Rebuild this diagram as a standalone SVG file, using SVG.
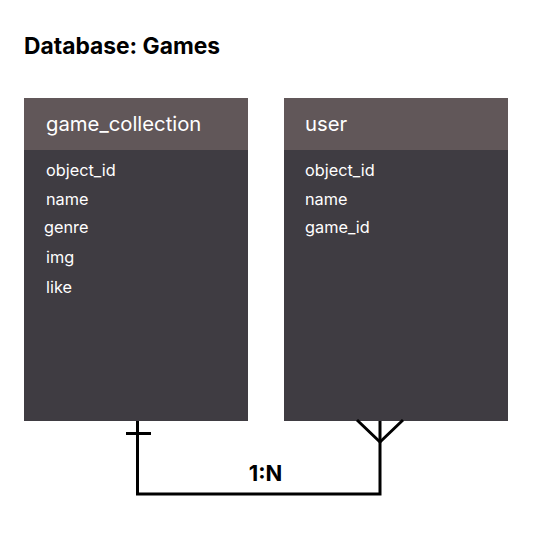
<svg xmlns="http://www.w3.org/2000/svg" width="533" height="539" viewBox="0 0 533 539">
<style>
text{font-family:Inter,"Liberation Sans",sans-serif}
.title{font-size:22.8px;font-weight:700;fill:#000}
.hdr{fill:#615759}
.body{fill:#3f3c42}
.ht{font-size:20.3px;fill:#fff}
.ft{font-size:16.3px;fill:#fff}
.ln{fill:none;stroke:#000;stroke-width:3}
.lbl{font-size:22px;font-weight:700;fill:#000}
</style>
<rect width="533" height="539" fill="#fff"/>
<text class="title" x="24" y="54">Database: Games</text>
<g id="game_collection">
<rect class="body" x="24" y="98" width="224" height="323"/>
<rect class="hdr" x="24" y="98" width="224" height="52"/>
<text class="ht" x="46" y="131">game_collection</text>
<text class="ft" x="46" y="176">object_id</text>
<text class="ft" x="46" y="205">name</text>
<text class="ft" x="44" y="233">genre</text>
<text class="ft" x="46" y="263">img</text>
<text class="ft" x="46" y="293">like</text>
</g>
<g id="user">
<rect class="body" x="284" y="98" width="224" height="323"/>
<rect class="hdr" x="284" y="98" width="224" height="52"/>
<text class="ht" x="305" y="131">user</text>
<text class="ft" x="305" y="176">object_id</text>
<text class="ft" x="305" y="205">name</text>
<text class="ft" x="305" y="233">game_id</text>
</g>
<g id="connectors">
<polyline class="ln" points="137.5,421 137.5,494 380,494 380,421"/>
<line class="ln" x1="126" y1="433.5" x2="151" y2="433.5"/>
<polyline class="ln" points="357,420 380,442 403,420"/>
<text class="lbl" x="265.5" y="481" text-anchor="middle">1:N</text>
</g>
</svg>
